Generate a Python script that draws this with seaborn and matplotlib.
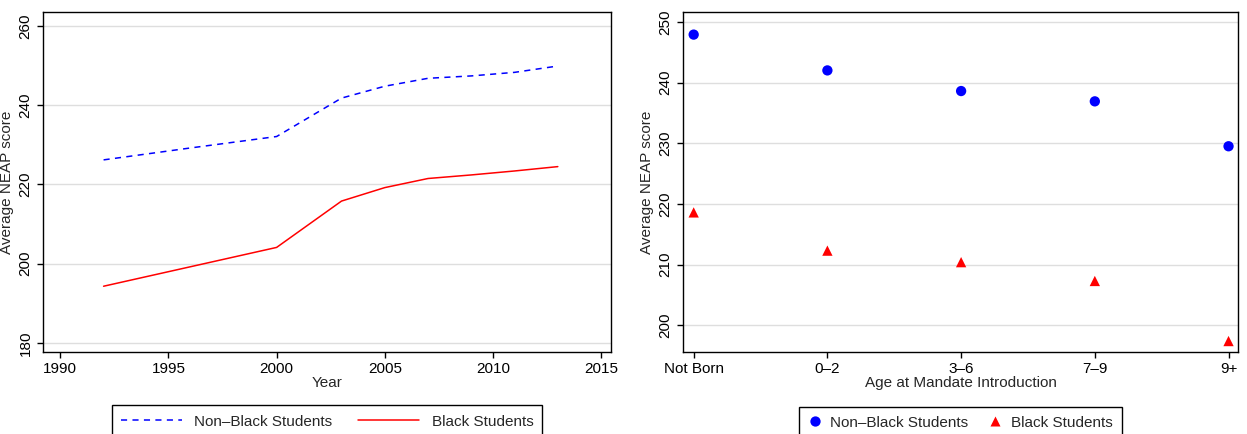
import matplotlib
matplotlib.use("Agg")
import matplotlib.pyplot as plt
import seaborn as sns
import pandas as pd

# Left panel: NAEP scores over time
years = [1992, 1996, 2000, 2003, 2005, 2007, 2009, 2011, 2013]
nonblack_year = [226.2, 229.2, 232.1, 241.8, 244.8, 246.8, 247.4, 248.3, 249.9]
black_year = [194.3, 199.2, 204.1, 215.8, 219.2, 221.5, 222.4, 223.4, 224.5]

# Right panel: scores by age at mandate introduction
age_groups = ["Not Born", "0–2", "3–6", "7–9", "9+"]
nonblack_age = [247.9, 242.0, 238.6, 236.9, 229.5]
black_age = [218.6, 212.3, 210.4, 207.3, 197.4]

groups = ["Non–Black Students", "Black Students"]
colors = {"Non–Black Students": "blue", "Black Students": "red"}

df_year = pd.DataFrame({
    "Year": years * 2,
    "score": nonblack_year + black_year,
    "group": [groups[0]] * len(years) + [groups[1]] * len(years),
})
df_age = pd.DataFrame({
    "age": age_groups * 2,
    "score": nonblack_age + black_age,
    "group": [groups[0]] * len(age_groups) + [groups[1]] * len(age_groups),
})

sns.set_style("white")
plt.rcParams["font.family"] = ["Liberation Sans", "DejaVu Sans"]
plt.rcParams.update({
    "axes.edgecolor": "black",
    "axes.linewidth": 1.0,
    "xtick.bottom": True,
    "ytick.left": True,
    "xtick.major.size": 4.5,
    "ytick.major.size": 4.5,
    "xtick.color": "black",
    "ytick.color": "black",
    "legend.fancybox": False,
    "legend.edgecolor": "black",
    "legend.framealpha": 1,
})

fig = plt.figure(figsize=(12.47, 4.34), dpi=100)
ax1 = fig.add_axes([0.0345, 0.189, 0.4555, 0.783])
ax2 = fig.add_axes([0.5477, 0.189, 0.445, 0.783])

fs = 11

# left: lines
sns.lineplot(data=df_year, x="Year", y="score", hue="group", style="group",
             hue_order=groups, style_order=groups, palette=colors,
             dashes={groups[0]: (4, 3.5), groups[1]: ""},
             linewidth=1.1, ax=ax1)
ax1.set_xlim(1989.2, 2015.46)
ax1.set_ylim(177.7, 263.5)
ax1.set_xticks([1990, 1995, 2000, 2005, 2010, 2015])
ax1.set_yticks([180, 200, 220, 240, 260])
ax1.set_xlabel("Year", fontsize=fs, labelpad=0)

# right: points
sns.scatterplot(data=df_age, x="age", y="score", hue="group", style="group",
                hue_order=groups, style_order=groups, palette=colors,
                markers={groups[0]: "o", groups[1]: "^"},
                s=55, edgecolor="none", ax=ax2)
ax2.set_xlim(-0.08, 4.07)
ax2.set_ylim(195.6, 251.6)
ax2.set_yticks([200, 210, 220, 230, 240, 250])
ax2.set_xlabel("Age at Mandate Introduction", fontsize=fs, labelpad=0)

for ax in (ax1, ax2):
    ax.set_ylabel("Average NEAP score", fontsize=fs, labelpad=3)
    ax.grid(axis="y", color="#dedede", linewidth=1.0)
    ax.set_axisbelow(True)
    ax.tick_params(axis="both", labelsize=fs, direction="out", width=1.0, pad=3)
    ax.tick_params(axis="y", labelrotation=90)
    for lab in ax.get_yticklabels():
        lab.set_va("center")
    for sp in ax.spines.values():
        sp.set_visible(True)
        sp.set_color("black")

sns.move_legend(ax1, "upper center", bbox_to_anchor=(0.5, -0.135), ncol=2,
                title=None, frameon=True, fontsize=fs, handlelength=4.0,
                columnspacing=1.7, borderpad=0.6, handletextpad=0.8)
sns.move_legend(ax2, "upper center", bbox_to_anchor=(0.5, -0.138), ncol=2,
                title=None, frameon=True, fontsize=fs, handlelength=0.8,
                columnspacing=1.4, borderpad=0.6, handletextpad=0.6)
for ax in (ax1, ax2):
    ax.get_legend().get_frame().set_linewidth(1.0)

fig.savefig("out.png", dpi=100)
